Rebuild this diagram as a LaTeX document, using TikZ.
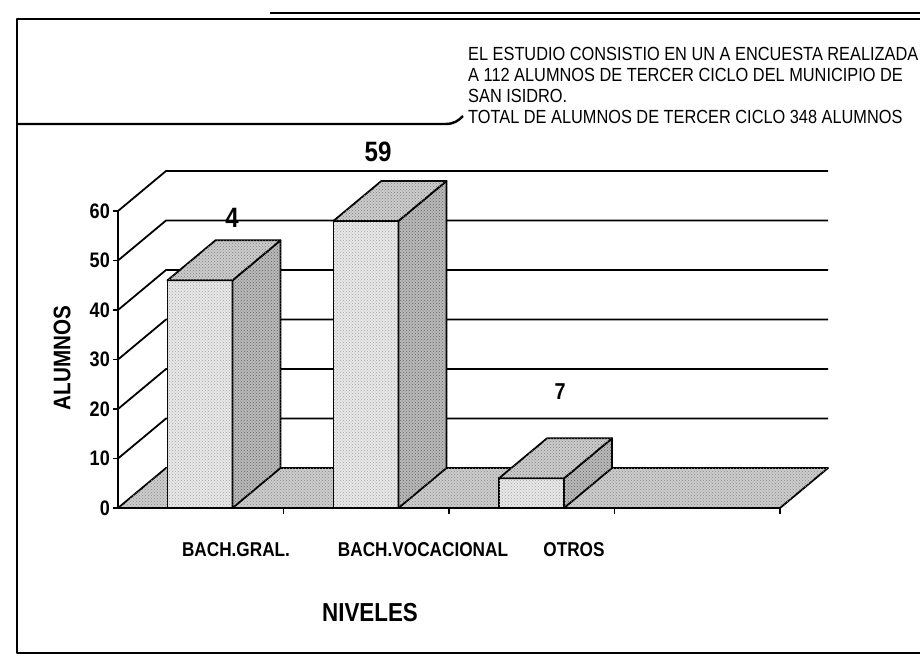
\documentclass[tikz,border=0pt]{standalone}
\usepackage{fontspec}
\setmainfont{Liberation Sans}[FakeStretch=0.86]
\usetikzlibrary{positioning,patterns}

\begin{document}
\begin{tikzpicture}[
						x=1pt,
						y=-1pt,
						line join=round,
						frameline/.style={line width=2.4pt},
						gridline/.style={line width=1.8pt},
						face/.style={draw,line width=1.8pt},
						frontface/.style={face,fill=gray!18,postaction={pattern=crosshatch dots,pattern color=gray!70}},
						sideface/.style={face,fill=gray!55,postaction={pattern=crosshatch dots,pattern color=black!60}},
						topface/.style={face,fill=gray!40,postaction={pattern=crosshatch dots,pattern color=black!50}},
						floorface/.style={face,fill=gray!40,postaction={pattern=crosshatch dots,pattern color=black!45}},
						ticklabel/.style={anchor=east,font=\fontsize{21}{21}\selectfont\bfseries,inner sep=0pt},
						catlabel/.style={font=\fontsize{20}{20}\selectfont\bfseries,inner sep=0pt},
						vallabel/.style={font=\fontsize{28}{28}\selectfont\bfseries,inner sep=0pt},
						note/.style={anchor=west,font=\fontsize{19}{19}\selectfont,inner sep=0pt}
					]
					\useasboundingbox (0,0) rectangle (920,656);
					% frame and text box
					\draw[frameline] (920,19) -- (17,19) -- (17,653) -- (920,653);
					\draw[frameline] (270,13) -- (920,13);
					\draw[frameline] (17,124) -- (445,124) .. controls (454,124) and (458,121) .. (463,116);
					\node[note] (line1) at (468,54) {EL ESTUDIO CONSISTIO EN UN A ENCUESTA REALIZADA};
					\node[note] (line2) at (468,75) {A 112 ALUMNOS DE TERCER CICLO DEL MUNICIPIO DE};
					\node[note] (line3) at (468,96) {SAN ISIDRO.};
					\node[note] (line4) at (468,117) {TOTAL DE ALUMNOS DE TERCER CICLO 348 ALUMNOS};
					% walls
					\foreach \k in {1,...,6} {
						\draw[gridline] (118,508-49.5*\k) -- (166,468-49.5*\k) -- (828,468-49.5*\k);
					}
					% floor
					\draw[floorface] (118,508) -- (780,508) -- (828,468) -- (166,468) -- cycle;
					% columns
					\foreach \cx/\val in {200/46, 366/58, 531.5/6} {
						\pgfmathsetmacro{\xa}{\cx-32.5}
						\pgfmathsetmacro{\xb}{\cx+32.5}
						\pgfmathsetmacro{\yt}{508-4.95*\val}
						\draw[frontface] (\xa,508) rectangle (\xb,\yt);
						\draw[sideface] (\xb,508) -- (\xb+48,468) -- (\xb+48,\yt-40) -- (\xb,\yt) -- cycle;
						\draw[topface] (\xa,\yt) -- (\xa+48,\yt-40) -- (\xb+48,\yt-40) -- (\xb,\yt) -- cycle;
					}
					% axes
					\draw[gridline] (118,508) -- (118,210);
					\draw[gridline] (118,508) -- (780,508);
					\foreach \k in {0,...,6} {
						\draw[line width=1.2pt] (113,508-49.5*\k) -- (118,508-49.5*\k);
						\pgfmathtruncatemacro{\lab}{10*\k}
						\node[ticklabel] (tick\k) at (110,508-49.5*\k) {\lab};
					}
					\foreach \k in {1,...,4} {
						\draw[line width=1.2pt] (118+165.5*\k,508) -- (118+165.5*\k,514);
					}
					% labels
					\node[vallabel] (val1) at (232,218) {4};
					\node[vallabel] (val2) at (378,152) {59};
					\node[vallabel,font=\fontsize{23}{23}\selectfont\bfseries] (val3) at (560,392) {7};
					\node[catlabel] (cat1) at (236,550) {BACH.GRAL.};
					\node[catlabel] (cat2) at (423,550) {BACH.VOCACIONAL};
					\node[catlabel] (cat3) at (574,550) {OTROS};
					\node[font=\fontsize{26}{26}\selectfont\bfseries,inner sep=0pt] (xtitle) at (370,613) {NIVELES};
					\node[font=\fontsize{24}{24}\selectfont\bfseries,inner sep=0pt,rotate=90] (ytitle) at (62,358) {ALUMNOS};
				\end{tikzpicture}
\end{document}
